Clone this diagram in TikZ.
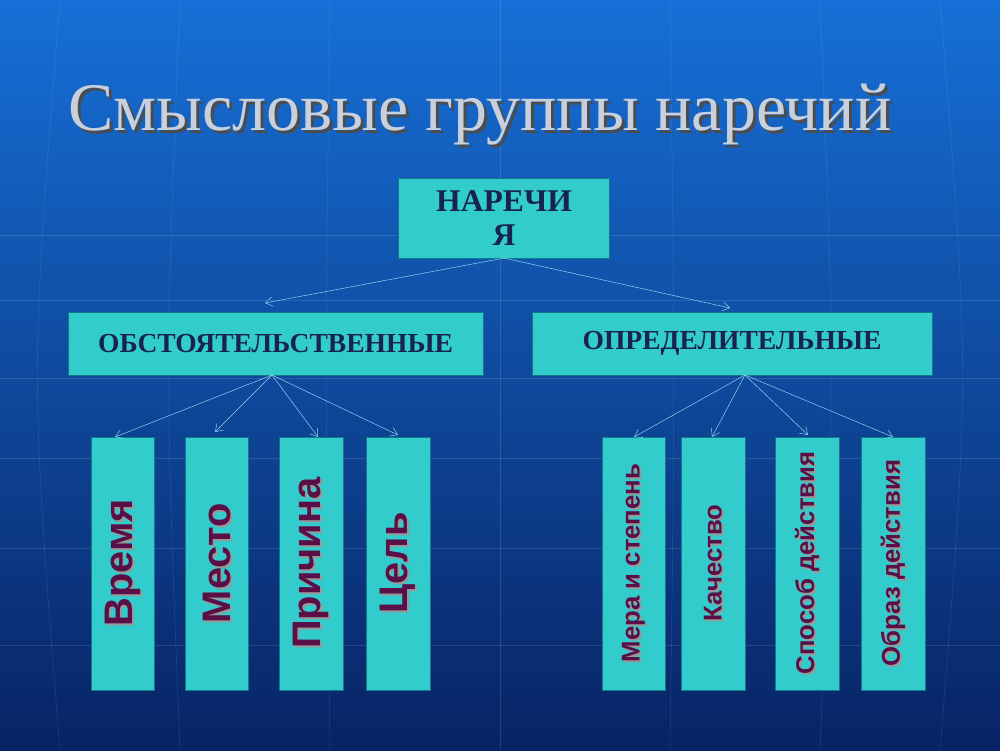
\documentclass[tikz,border=0pt]{standalone}
\usepackage{fontspec}
\setmainfont{Liberation Serif}
\newfontfamily\boxfont{Liberation Sans}
\usetikzlibrary{arrows.meta}

\definecolor{teal box}{RGB}{51,204,204}
\definecolor{teal edge}{RGB}{20,120,140}
\definecolor{navy text}{RGB}{25,35,80}
\definecolor{plum text}{RGB}{90,15,70}
\definecolor{link line}{RGB}{140,220,240}

\tikzset{
    topbox/.style={draw=teal edge,fill=teal box,text=navy text,font=\bfseries\fontsize{27}{29}\selectfont,align=center},
    leafbox/.style={draw=teal edge,fill=teal box,inner sep=0pt},
    leaftext/.style={rotate=90,text=plum text,font=\boxfont\bfseries},
    link/.style={draw=link line,thin,-{Straight Barb[length=6pt,width=8pt]}}
}

\begin{document}
\begin{tikzpicture}[x=0.03cm,y=-0.03cm]
    % background
    \shade[top color={rgb,255:red,22;green,112;blue,215},bottom color={rgb,255:red,8;green,35;blue,100}] (0,0) rectangle (1000,750);
    \useasboundingbox (0,0) rectangle (1000,750);
    \foreach \yy in {235,300,378,458,548,645}
        \draw[white,opacity=0.12] (0,\yy) -- (1000,\yy);
    \foreach \xx/\bend in {60/-30,180/-15,330/-5,500/0,670/5,820/15,940/30}
        \draw[white,opacity=0.12] (\xx,0) .. controls (\xx+\bend,375) .. (\xx,750);

    % title
    \node[text=black!70,font=\fontsize{58}{60}\selectfont] at (483,118) {Смысловые группы наречий};
    \node[text={rgb,255:red,200;green,208;blue,220},font=\fontsize{58}{60}\selectfont] (title) at (480,115) {Смысловые группы наречий};

    % upper boxes
    \node[topbox,minimum width=212*0.85pt,minimum height=80*0.85pt,inner sep=0pt] (root) at (504,218) {НАРЕЧИ\\Я};
    \node[topbox,minimum width=417*0.85pt,minimum height=63*0.85pt,font=\bfseries\fontsize{23.5}{25}\selectfont] (circ) at (275.5,343.5) {ОБСТОЯТЕЛЬСТВЕННЫЕ};
    \node[topbox,minimum width=402*0.85pt,minimum height=63*0.85pt,font=\bfseries\fontsize{23.5}{25}\selectfont] (attr) at (732,343.5) {ОПРЕДЕЛИТЕЛЬНЫЕ};

    % leaves
    \foreach \name/\xa/\xb/\txt/\fs in {
        time/91/154/Время/34,
        place/185/248/Место/34,
        cause/279/343/Причина/34,
        goal/366/430/Цель/34,
        degree/602/665/Мера и степень/22,
        quality/681/745/Качество/22,
        way/775/839/Способ действия/22,
        manner/861/925/Образ действия/22}
    {
        \draw[leafbox] (\xa,437) rectangle (\xb,690);
        \node[leaftext,font=\boxfont\bfseries\fontsize{\fs}{\fs}\selectfont,text=black!40] at ({(\xa+\xb)/2+2},565) {\txt};
        \node[leaftext,font=\boxfont\bfseries\fontsize{\fs}{\fs}\selectfont] (\name) at ({(\xa+\xb)/2},563) {\txt};
    }
    \coordinate (time-in) at (115,437);
    \coordinate (place-in) at (215,432);
    \coordinate (cause-in) at (318,437);
    \coordinate (goal-in) at (398,435);
    \coordinate (degree-in) at (634,437);
    \coordinate (quality-in) at (712,437);
    \coordinate (way-in) at (808,435);
    \coordinate (manner-in) at (893,437);

    % links
    \coordinate (circ-in) at (265,303);
    \coordinate (attr-in) at (730,308);
    \coordinate (circ-out) at (272,375);
    \coordinate (attr-out) at (745,375);
    \draw[link] (root.south) -- (circ-in);
    \draw[link] (root.south) -- (attr-in);
    \foreach \leaf in {time,place,cause,goal}
        \draw[link] (circ-out) -- (\leaf-in);
    \foreach \leaf in {degree,quality,way,manner}
        \draw[link] (attr-out) -- (\leaf-in);
\end{tikzpicture}
\end{document}
